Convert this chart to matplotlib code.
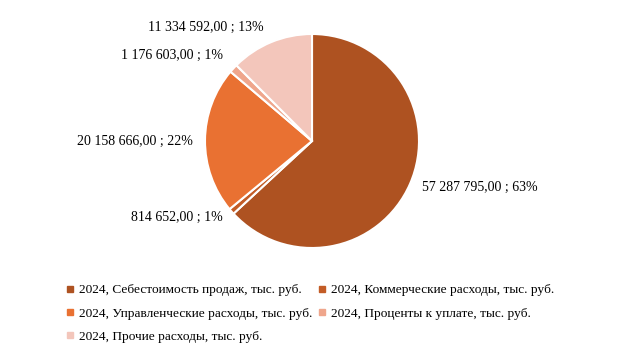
import matplotlib
matplotlib.use("Agg")
import matplotlib.pyplot as plt
from matplotlib.lines import Line2D

categories = [
    "2024, Себестоимость продаж, тыс. руб.",
    "2024, Коммерческие расходы, тыс. руб.",
    "2024, Управленческие расходы, тыс. руб.",
    "2024, Проценты к уплате, тыс. руб.",
    "2024, Прочие расходы, тыс. руб.",
]
values = [57287795.00, 814652.00, 20158666.00, 1176603.00, 11334592.00]
value_labels = ["57 287 795,00", "814 652,00", "20 158 666,00", "1 176 603,00", "11 334 592,00"]
percent_labels = ["63%", "1%", "22%", "1%", "13%"]
colors = ["#AE5221", "#C35C26", "#E97132", "#EFA68C", "#F3C6BB"]

plt.rcParams["font.family"] = ["Liberation Serif", "DejaVu Serif"]
W, H = 623, 353
fig = plt.figure(figsize=(W / 100, H / 100), dpi=100)

cx, cy, r = 312, 141, 107
ax = fig.add_axes([(cx - r) / W, (H - cy - r) / H, 2 * r / W, 2 * r / H])
wedges, _ = ax.pie(values, colors=colors, startangle=90, counterclock=False,
                   wedgeprops=dict(edgecolor="white", linewidth=1.5))
ax.set_xlim(-1, 1)
ax.set_ylim(-1, 1)
ax.set_aspect("equal")
ax.axis("off")

# label positions (pixel coords in figure) and alignment
label_pos = [(422, 187, "left"), (223, 217, "right"), (193, 141, "right"),
             (223, 55, "right"), (264, 27, "right")]
for (px, py, ha), v, p in zip(label_pos, value_labels, percent_labels):
    fig.text(px / W, 1 - py / H, f"{v} ; {p}", ha=ha, va="center", fontsize=10)

handles = [Line2D([], [], marker="s", linestyle="none", markersize=4,
                  markerfacecolor=c, markeredgecolor=c) for c in colors]
order = [0, 2, 4, 1, 3]
fig.legend([handles[i] for i in order], [categories[i] for i in order],
           ncol=2, loc="upper left", bbox_to_anchor=(66 / W, 1 - 284 / H),
           frameon=False, fontsize=9.6, handlelength=0.6, handletextpad=0.35,
           columnspacing=0.45, labelspacing=0.82, borderpad=0, borderaxespad=0)

fig.savefig("out.png", dpi=100)
